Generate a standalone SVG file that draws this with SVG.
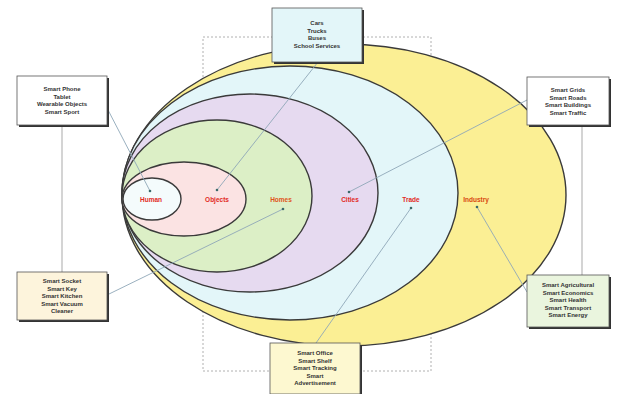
<svg xmlns="http://www.w3.org/2000/svg" width="617" height="394" viewBox="0 0 617 394">
<defs>
<style>
.frame{fill:none;stroke:#b0b0b0;stroke-width:1;stroke-dasharray:2 2}
.vline{fill:none;stroke:#b8b8b8;stroke-width:1.2}
.ell{stroke:#3a3a3a;stroke-width:1.4}
.lbl{font-family:"Liberation Sans",Arial,sans-serif;font-size:6.5px;font-weight:bold;fill:#e22a1e;text-anchor:middle}
.box{stroke:#555;stroke-width:0.8}
.sh{fill:#333}
.bt{font-family:"Liberation Sans",Arial,sans-serif;font-size:6px;font-weight:bold;fill:#333;text-anchor:middle}
.con{stroke:#8fa7b8;stroke-width:0.9;fill:none}
.dot{fill:#3b6b6b}
</style>
</defs>
<rect width="617" height="394" fill="#fff"/>
<g id="frame">
<rect class="frame" x="203" y="37" width="228" height="334"/>
<line class="vline" x1="62" y1="126" x2="62" y2="272"/>
<line class="vline" x1="582" y1="126" x2="582" y2="275"/>
</g>
<g id="ellipses">
<ellipse id="industry" class="ell" cx="344" cy="195" rx="222" ry="151" fill="#fbef94"/>
<ellipse id="trade" class="ell" cx="290" cy="193" rx="168" ry="127" fill="#e3f6f9"/>
<ellipse id="cities" class="ell" cx="250" cy="193" rx="128" ry="99" fill="#e6daf0"/>
<ellipse id="homes" class="ell" cx="217" cy="196" rx="95" ry="76" fill="#dcefc6"/>
<ellipse id="objects" class="ell" cx="184" cy="199" rx="62" ry="37" fill="#fbe3e3"/>
<ellipse id="human" class="ell" cx="152" cy="199" rx="29" ry="21" fill="#f4fbfc"/>
<text class="lbl" x="151" y="202">Human</text>
<text class="lbl" x="217" y="202">Objects</text>
<text class="lbl" x="281" y="202" fill="#e0531a" style="fill:#e0531a">Homes</text>
<text class="lbl" x="350" y="202">Cities</text>
<text class="lbl" x="411" y="202">Trade</text>
<text class="lbl" x="476" y="202" style="fill:#d8480f">Industry</text>
</g>
<g id="connectors">
<line class="con" x1="107" y1="108" x2="150" y2="191"/>
<line class="con" x1="318" y1="62" x2="217" y2="190"/>
<line class="con" x1="527" y1="100" x2="349" y2="192"/>
<line class="con" x1="107" y1="295" x2="283" y2="209"/>
<line class="con" x1="527" y1="292" x2="477" y2="207"/>
<line class="con" x1="316" y1="343" x2="411" y2="208"/>
<circle class="dot" cx="150" cy="191" r="1.3"/>
<circle class="dot" cx="217" cy="190" r="1.3"/>
<circle class="dot" cx="283" cy="209" r="1.3"/>
<circle class="dot" cx="349" cy="192" r="1.3"/>
<circle class="dot" cx="411" cy="208" r="1.3"/>
<circle class="dot" cx="477" cy="207" r="1.3"/>
</g>
<g id="box-top">
<rect class="sh" x="274" y="10" width="90" height="54"/>
<rect class="box" x="272" y="8" width="90" height="54" fill="#e3f6f9"/>
<text class="bt" x="317" y="25">Cars</text>
<text class="bt" x="317" y="32.5">Trucks</text>
<text class="bt" x="317" y="40">Buses</text>
<text class="bt" x="317" y="47.5">School Services</text>
</g>
<g id="box-topleft">
<rect class="sh" x="19" y="78" width="90" height="49"/>
<rect class="box" x="17" y="76" width="90" height="49" fill="#ffffff"/>
<text class="bt" x="62" y="91">Smart Phone</text>
<text class="bt" x="62" y="98.5">Tablet</text>
<text class="bt" x="62" y="106">Wearable Objects</text>
<text class="bt" x="62" y="113.5">Smart Sport</text>
</g>
<g id="box-topright">
<rect class="sh" x="529" y="79" width="82" height="48"/>
<rect class="box" x="527" y="77" width="82" height="48" fill="#ffffff"/>
<text class="bt" x="568" y="92">Smart Grids</text>
<text class="bt" x="568" y="99.5">Smart Roads</text>
<text class="bt" x="568" y="107">Smart Buildings</text>
<text class="bt" x="568" y="114.5">Smart Traffic</text>
</g>
<g id="box-bottomleft">
<rect class="sh" x="19" y="274" width="90" height="48"/>
<rect class="box" x="17" y="272" width="90" height="48" fill="#fdf4dc"/>
<text class="bt" x="62" y="283">Smart Socket</text>
<text class="bt" x="62" y="290.5">Smart Key</text>
<text class="bt" x="62" y="298">Smart Kitchen</text>
<text class="bt" x="62" y="305.5">Smart Vacuum</text>
<text class="bt" x="62" y="313">Cleaner</text>
</g>
<g id="box-bottomright">
<rect class="sh" x="529" y="277" width="82" height="52"/>
<rect class="box" x="527" y="275" width="82" height="52" fill="#eaf5de"/>
<text class="bt" x="568" y="287">Smart Agricultural</text>
<text class="bt" x="568" y="294.5">Smart Economics</text>
<text class="bt" x="568" y="302">Smart Health</text>
<text class="bt" x="568" y="309.5">Smart Transport</text>
<text class="bt" x="568" y="317">Smart Energy</text>
</g>
<g id="box-bottom">
<rect class="sh" x="272" y="345" width="90" height="51"/>
<rect class="box" x="270" y="343" width="90" height="51" fill="#fdf8d0"/>
<text class="bt" x="315" y="355">Smart Office</text>
<text class="bt" x="315" y="362.5">Smart Shelf</text>
<text class="bt" x="315" y="370">Smart Tracking</text>
<text class="bt" x="315" y="377.5">Smart</text>
<text class="bt" x="315" y="385">Advertisement</text>
</g>
</svg>
